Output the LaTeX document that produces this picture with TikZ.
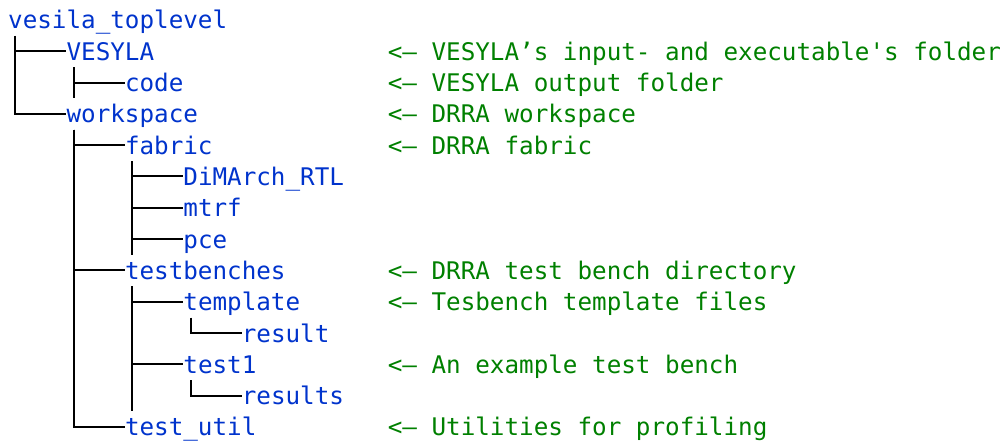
\documentclass[tikz,border=0pt]{standalone}
\usepackage{fontspec}
\setmonofont{DejaVu Sans Mono}

\definecolor{dirblue}{RGB}{0,51,204}
\definecolor{notegreen}{RGB}{0,128,0}

\newcommand*{\colw}{14.6}
\newcommand*{\rowh}{31.3}
\newcommand*{\xo}{8}
\newcommand*{\yo}{20}
\newcommand*{\notex}{387.6}
\newcommand*{\halfcol}{7.3pt}

\begin{document}
\begin{tikzpicture}
[
	x=1pt, y=-1pt,
	dir/.style={anchor=west,inner sep=0pt,text=dirblue,
		font=\ttfamily\fontsize{24.25}{30}\selectfont,
		minimum height=31.3pt,text height=22pt,text depth=4pt},
	note/.style={dir,text=notegreen},
	tree/.style={line width=2pt,black}
]

	\useasboundingbox (0,0) rectangle (1008,443);

	% folders
	\node[dir] at ({\xo+0*\colw},{\yo+0*\rowh}) (root) {vesila\_toplevel};
	\node[dir] at ({\xo+4*\colw},{\yo+1*\rowh}) (vesyla) {VESYLA};
	\node[dir] at ({\xo+8*\colw},{\yo+2*\rowh}) (code) {code};
	\node[dir] at ({\xo+4*\colw},{\yo+3*\rowh}) (workspace) {workspace};
	\node[dir] at ({\xo+8*\colw},{\yo+4*\rowh}) (fabric) {fabric};
	\node[dir] at ({\xo+12*\colw},{\yo+5*\rowh}) (dimarch) {DiMArch\_RTL};
	\node[dir] at ({\xo+12*\colw},{\yo+6*\rowh}) (mtrf) {mtrf};
	\node[dir] at ({\xo+12*\colw},{\yo+7*\rowh}) (pce) {pce};
	\node[dir] at ({\xo+8*\colw},{\yo+8*\rowh}) (testbenches) {testbenches};
	\node[dir] at ({\xo+12*\colw},{\yo+9*\rowh}) (template) {template};
	\node[dir] at ({\xo+16*\colw},{\yo+10*\rowh}) (result) {result};
	\node[dir] at ({\xo+12*\colw},{\yo+11*\rowh}) (test1) {test1};
	\node[dir] at ({\xo+16*\colw},{\yo+12*\rowh}) (results) {results};
	\node[dir] at ({\xo+8*\colw},{\yo+13*\rowh}) (testutil) {test\_util};

	% notes
	\node[note] at (\notex,{\yo+1*\rowh}) (vesyla-note) {<– VESYLA’s input- and executable's folder};
	\node[note] at (\notex,{\yo+2*\rowh}) (code-note) {<– VESYLA output folder};
	\node[note] at (\notex,{\yo+3*\rowh}) (workspace-note) {<– DRRA workspace};
	\node[note] at (\notex,{\yo+4*\rowh}) (fabric-note) {<– DRRA fabric};
	\node[note] at (\notex,{\yo+8*\rowh}) (testbenches-note) {<– DRRA test bench directory};
	\node[note] at (\notex,{\yo+9*\rowh}) (template-note) {<– Tesbench template files};
	\node[note] at (\notex,{\yo+11*\rowh}) (test1-note) {<– An example test bench};
	\node[note] at (\notex,{\yo+13*\rowh}) (testutil-note) {<– Utilities for profiling};

	% tree lines
	\draw[tree] ([xshift=\halfcol]root.south west) |- (vesyla.west);
	\draw[tree] ([xshift=\halfcol]root.south west) |- (workspace.west);

	\draw[tree] ([xshift=\halfcol]vesyla.south west) |- (code.west);
	\draw[tree] ([xshift=\halfcol]vesyla.south west) -- ([xshift=\halfcol]vesyla.south west |- code.south);

	\draw[tree] ([xshift=\halfcol]workspace.south west) |- (fabric.west);
	\draw[tree] ([xshift=\halfcol]workspace.south west) |- (testbenches.west);
	\draw[tree] ([xshift=\halfcol]workspace.south west) |- (testutil.west);

	\draw[tree] ([xshift=\halfcol]fabric.south west) |- (dimarch.west);
	\draw[tree] ([xshift=\halfcol]fabric.south west) |- (mtrf.west);
	\draw[tree] ([xshift=\halfcol]fabric.south west) |- (pce.west);
	\draw[tree] ([xshift=\halfcol]fabric.south west) -- ([xshift=\halfcol]fabric.south west |- pce.south);

	\draw[tree] ([xshift=\halfcol]testbenches.south west) |- (template.west);
	\draw[tree] ([xshift=\halfcol]testbenches.south west) |- (test1.west);
	\draw[tree] ([xshift=\halfcol]testbenches.south west) -- ([xshift=\halfcol]testbenches.south west |- results.south);

	\draw[tree] ([xshift=\halfcol]template.south west) |- (result.west);
	\draw[tree] ([xshift=\halfcol]test1.south west) |- (results.west);

\end{tikzpicture}
\end{document}
